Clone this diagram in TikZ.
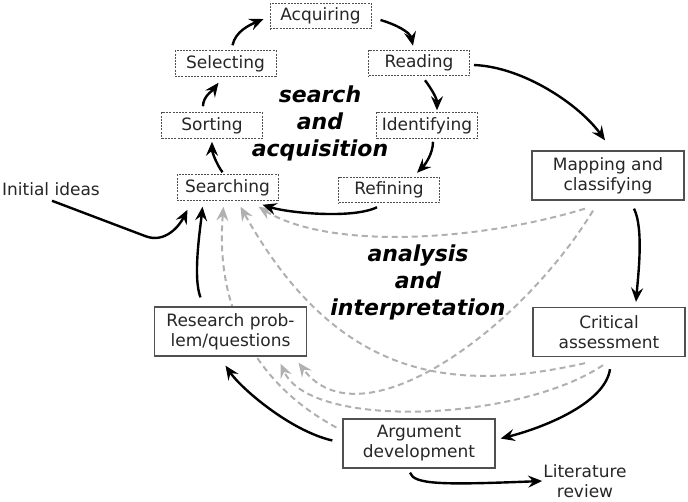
\documentclass[tikz,border=0pt]{standalone}
\usepackage{fontspec}
\setmainfont{DejaVu Sans}
\usetikzlibrary{arrows.meta}
\pgfdeclarelayer{bg}
\pgfsetlayers{bg,main}
\definecolor{boxline}{HTML}{505050}
\definecolor{dashline}{HTML}{505050}
\definecolor{lightline}{HTML}{B0B0B0}
\begin{document}
\begin{tikzpicture}[x=1pt,y=-1pt,
  every node/.style={font=\fontsize{17}{20}\selectfont, align=center, text=black!85},
  stagebox/.style={draw=dashline, line width=1pt, dash pattern=on 2pt off 1.2pt, minimum width=101pt, minimum height=25.5pt, inner sep=1pt, fill=white},
  phasebox/.style={draw=boxline, line width=1.3pt, minimum width=152pt, minimum height=49pt, inner sep=1pt, fill=white},
  phaselabel/.style={font=\fontsize{22}{27}\selectfont\bfseries\itshape, text=black},
  flow/.style={line width=2.4pt, -{Stealth[length=14pt,width=12pt,inset=5pt]}},
  feedback/.style={draw=lightline, line width=2pt, dash pattern=on 6pt off 4pt, -{Stealth[length=14pt,width=12pt,inset=5pt,fill=lightline]}}
]
\useasboundingbox (0,0) rectangle (688,501);
% stages of search and acquisition
\node[stagebox] (acq) at (320.5,16) {Acquiring};
\node[stagebox] (sel) at (225.5,63.5) {Selecting};
\node[stagebox] (rea) at (419,63) {Reading};
\node[stagebox] (sor) at (212,125.5) {Sorting};
\node[stagebox] (ide) at (427,125.5) {Identifying};
\node[stagebox] (sea) at (227.5,187.5) {Searching};
\node[stagebox] (ref) at (389,190) {Refining};
% stages of analysis and interpretation
\node[phasebox] (map) at (608,175.5) {Mapping and\\classifying};
\node[phasebox] (cri) at (609,332) {Critical\\assessment};
\node[phasebox] (res) at (230.5,331.5) {Research prob-\\lem/questions};
\node[phasebox] (arg) at (419,443.5) {Argument\\development};
\node[inner sep=0pt] (ini) at (51,189) {Initial ideas};
\node[inner sep=1pt] (lit) at (585,481) {Literature\\review};
\node[phaselabel] (sa) at (320,123) {search\\and\\acquisition};
\node[phaselabel] (ai) at (418,282) {analysis\\and\\interpretation};
\coordinate (iniK) at (145,236);
% feedback (grey dashed)
\begin{pgfonlayer}{bg}
\draw[feedback] ([shift={(-23,8)}]map.south) .. controls +(-105,32) and +(72,44) .. ([shift={(31,6)}]sea.south);
\draw[feedback] ([shift={(-24,6)}]cri.south) .. controls +(-125,28) and +(100,179) .. ([shift={(13,6)}]sea.south);
\draw[feedback] ([shift={(-6,-16)}]arg.west) .. controls +(-87,-47) and +(-8,94) .. ([shift={(-4,6)}]sea.south);
\draw[feedback] ([shift={(-15,10)}]map.south) .. controls +(-73,120) and +(62,83) .. ([shift={(68,6)}]res.south);
\draw[feedback] ([shift={(-6,8)}]cri.south) .. controls +(-83,56) and +(30,67) .. ([shift={(50,7)}]res.south);
\end{pgfonlayer}
% main flow
\draw[flow] ([shift={(7,-5)}]sel.north) .. controls +(3,-14) and +(-14,6) .. ([shift={(-6,3)}]acq.west);
\draw[flow] ([shift={(9,4)}]acq.east) .. controls +(14,4) and +(-3,-14) .. ([shift={(-6,-4)}]rea.north);
\draw[flow] ([shift={(6,4)}]rea.south) .. controls +(6,8) and +(0,-12) .. ([shift={(10,-2)}]ide.north);
\draw[flow] ([shift={(6,3)}]ide.south) .. controls +(0,12) and +(8,-8) .. ([shift={(28,-4)}]ref.north);
\draw[flow] ([shift={(-12,4)}]ref.south) .. controls +(-25,12) and +(25,8) .. ([shift={(35,4)}]sea.south);
\draw[flow] ([shift={(-5,-2)}]sea.north) .. controls +(-6,-8) and +(0,10) .. ([shift={(0,3)}]sor.south);
\draw[flow] ([shift={(-9,-6)}]sor.north) .. controls +(0,-10) and +(-6,8) .. ([shift={(-7,6)}]sel.south);
\draw[flow] ([shift={(4,2)}]rea.east) .. controls +(50,2) and +(-25,-35) .. ([shift={(-3,-10)}]map.north);
\draw[flow] ([shift={(26,8)}]map.south) .. controls +(10,20) and +(2,-25) .. ([shift={(27,-5)}]cri.north);
\draw[flow] ([shift={(1,12)}]cri.south) .. controls +(-5,35) and +(40,-10) .. ([shift={(5,-5)}]arg.east);
\draw[flow] ([shift={(-10,-3)}]arg.west) .. controls +(-43,-10) and +(15,22) .. ([shift={(-5,9)}]res.south);
\draw[flow] ([shift={(-30,-9)}]res.north) .. controls +(-8,-20) and +(-2,20) .. ([shift={(-25,6)}]sea.south);
\draw[flow] ([shift={(1,5)}]ini.south) -- (iniK) .. controls +(20,8) and +(-8,16) .. ([shift={(11,9)}]sea.south west);
\draw[flow] ([shift={(-9,4)}]arg.south) .. controls +(4,12) and +(-100,4) .. (lit.west);
\end{tikzpicture}
\end{document}
